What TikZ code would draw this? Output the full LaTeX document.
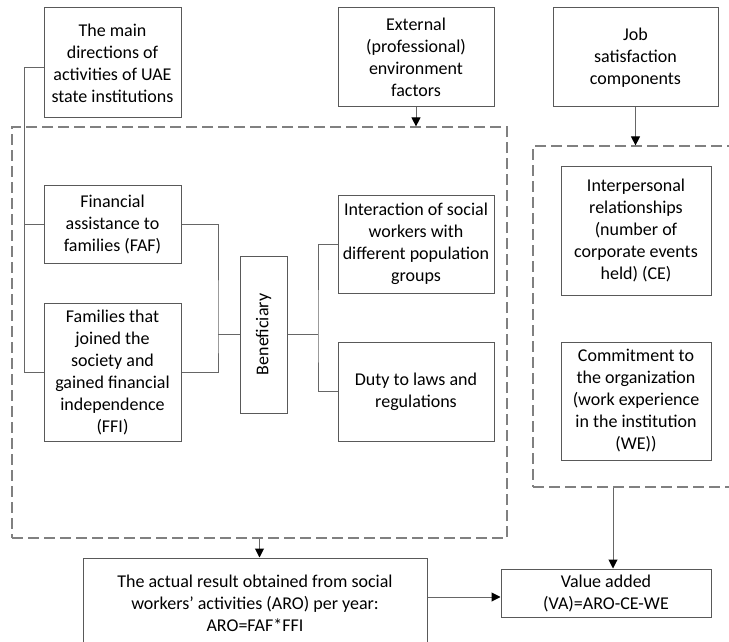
\documentclass[tikz,border=0pt]{standalone}
\usepackage{fontspec}
\setmainfont{Carlito}
\usetikzlibrary{arrows.meta}
\begin{document}
\begin{tikzpicture}[x=1pt,y=-1pt,
  box/.style={draw=black!65, line width=1pt, align=center, inner sep=0pt, font=\fontsize{18}{22}\selectfont},
  conn/.style={draw=black!60, line width=1pt},
  arr/.style={conn, -{Triangle[length=9pt,width=9pt,color=black]}},
  dashbox/.style={draw=black!50, line width=1.2pt, dash pattern=on 11pt off 5pt, inner sep=0pt}]
\useasboundingbox (0,0) rectangle (729,642);

% dashed groups
\node[dashbox, minimum width=495, minimum height=411] (grp1) at (259.5,332.5) {};
\node[dashbox, minimum width=212, minimum height=341] (grp2) at (639,316.5) {};

% top boxes
\node[box, minimum width=137, minimum height=110] (dir) at (112.5,63) {The main\\directions of\\activities of UAE\\state institutions};
\node[box, minimum width=156, minimum height=99] (ext) at (416,57.5) {External\\(professional)\\environment\\factors};
\node[box, minimum width=165, minimum height=99] (job) at (635.5,57.5) {Job\\satisfaction\\components};

% left column
\node[box, minimum width=137, minimum height=78] (faf) at (112.5,224) {Financial\\assistance to\\families (FAF)};
\node[box, minimum width=137, minimum height=138] (ffi) at (112.5,372) {Families that\\joined the\\society and\\gained financial\\independence\\(FFI)};
\node[box, minimum width=47, minimum height=157] (ben) at (263.5,334.5) {\rotatebox{90}{Beneficiary}};
\node[box, minimum width=156, minimum height=98] (inter) at (416,244) {Interaction of social\\workers with\\different population\\groups};
\node[box, minimum width=156, minimum height=99] (duty) at (416,391.5) {Duty to laws and\\regulations};

% right column
\node[box, minimum width=150, minimum height=129] (ce) at (636,230.5) {Interpersonal\\relationships\\(number of\\corporate events\\held) (CE)};
\node[box, minimum width=150, minimum height=118] (we) at (636,401) {Commitment to\\the organization\\(work experience\\in the institution\\(WE))};

% bottom
\node[box, minimum width=344, minimum height=90] (aro) at (255,603) {The actual result obtained from social\\workers’ activities (ARO) per year:\\ARO=FAF*FFI};
\node[box, minimum width=210, minimum height=48] (va) at (606,593) {Value added\\(VA)=ARO-CE-WE};

% left bus
\coordinate (busL) at (24,372);
\draw[conn] ([yshift=-5pt]dir.west) -| (busL) -- (ffi.west);
\draw[conn] (faf.west) -- (faf.west -| busL);

% FAF/FFI to beneficiary
\coordinate (busM) at (218,334.5);
\draw[conn] (faf.east) -| (busM) |- (ffi.east);
\draw[conn] (busM) -- (ben.west);

% beneficiary to right boxes
\coordinate (busR) at (318,334.5);
\draw[conn] (ben.east) -- (busR);
\draw[conn] (inter.west) -| (busR) |- (duty.west);

% arrows
\draw[arr] (ext.south) -- (ext.south |- grp1.north);
\draw[arr] (job.south) -- (job.south |- grp2.north);
\draw[arr] (grp1.south) -- (grp1.south |- aro.north);
\draw[arr] ([xshift=7pt]va.north |- grp2.south) -- ([xshift=7pt]va.north);
\draw[arr] ([yshift=6pt]aro.east) -- ([yshift=-4pt]va.west);
\end{tikzpicture}
\end{document}
